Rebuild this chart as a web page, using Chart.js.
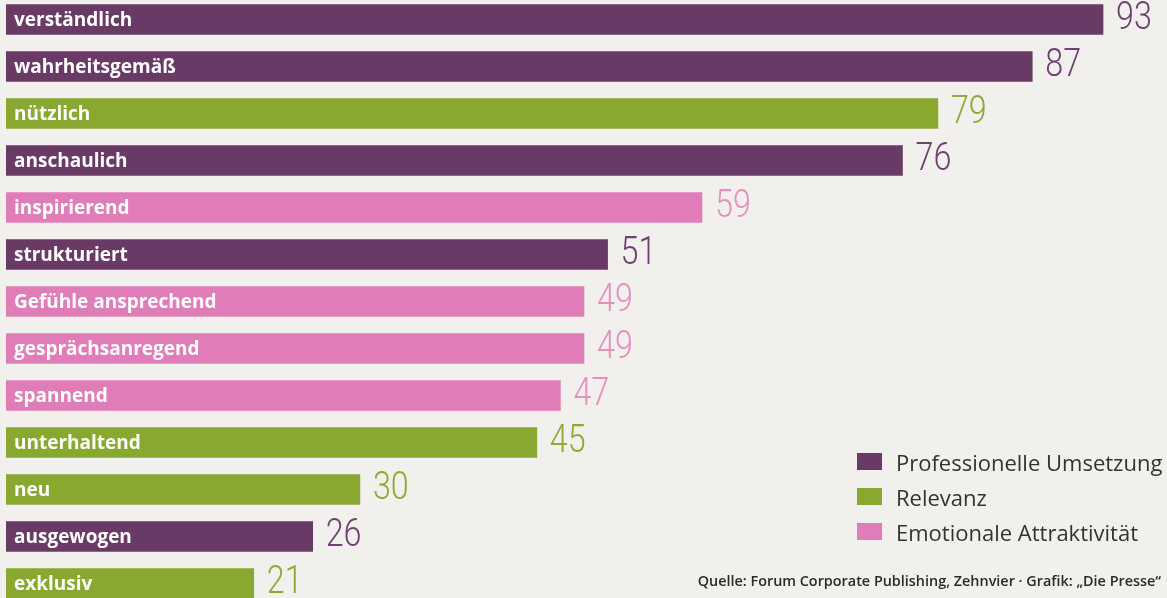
<!DOCTYPE html>
<html>
<head>
<meta charset="utf-8">
<script src="https://cdn.jsdelivr.net/npm/chart.js@4"></script>
<style>
  html, body { margin: 0; padding: 0; overflow: hidden; background: #f2f0ec; }
  body { width: 1167px; height: 598px; position: relative; font-family: "Open Sans", sans-serif; }
  #wrap { position: absolute; left: 0; top: -4px; width: 1167px; height: 611px; }
  #legend { position: absolute; left: 857px; top: 444px; }
  .item { display: flex; align-items: center; height: 35px; font-size: 22px; color: #333; }
  .box { width: 25px; height: 17px; margin-right: 14px; }
  #source { position: absolute; right: 6px; top: 571px; font-size: 14.4px; font-weight: 600; color: #2a2a2a; }
</style>
</head>
<body>
<div id="wrap"><canvas id="chart"></canvas></div>
<div id="legend"></div>
<div id="source">Quelle: Forum Corporate Publishing, Zehnvier · Grafik: „Die Presse“</div>
<script>
// Daten aus der Grafik
const categories = ['verständlich', 'wahrheitsgemäß', 'nützlich', 'anschaulich', 'inspirierend', 'strukturiert',
  'Gefühle ansprechend', 'gesprächsanregend', 'spannend', 'unterhaltend', 'neu', 'ausgewogen', 'exklusiv'];
const values = [93, 87, 79, 76, 59, 51, 49, 49, 47, 45, 30, 26, 21];
// 0 = Professionelle Umsetzung, 1 = Relevanz, 2 = Emotionale Attraktivität
const groups = [0, 0, 1, 0, 2, 0, 2, 2, 2, 1, 1, 0, 1];
const seriesNames = ['Professionelle Umsetzung', 'Relevanz', 'Emotionale Attraktivität'];
const barColors = ['#6a3a67', '#89a830', '#e07cb7'];
const textColors = ['#6e4170', '#8cab35', '#e48fc2'];

const datasets = seriesNames.map((name, s) => ({
  label: name,
  data: values.map((v, i) => groups[i] === s ? v : null),
  backgroundColor: barColors[s],
  barThickness: 30,
  grouped: false
}));

// Beschriftungen in und neben den Balken
const barLabels = {
  id: 'barLabels',
  afterDatasetsDraw(chart) {
    const ctx = chart.ctx;
    const left = chart.chartArea.left;
    chart.data.datasets.forEach((ds, s) => {
      chart.getDatasetMeta(s).data.forEach((el, i) => {
        if (ds.data[i] === null) return;
        ctx.save();
        ctx.textBaseline = 'middle';
        ctx.fillStyle = '#ffffff';
        ctx.font = 'bold 19px "Open Sans"';
        ctx.fillText(categories[i], left + 8, el.y + 1);
        // Zahl etwas schmaler gesetzt wie im Original
        ctx.fillStyle = textColors[s];
        ctx.font = '300 38px Roboto';
        ctx.translate(el.x + 13, el.y);
        ctx.scale(0.85, 1);
        ctx.fillText(String(ds.data[i]), 0, 0);
        ctx.restore();
      });
    });
  }
};

new Chart(document.getElementById('chart'), {
  type: 'bar',
  data: { labels: categories, datasets: datasets },
  options: {
    indexAxis: 'y',
    responsive: true,
    maintainAspectRatio: false,
    animation: false,
    layout: { padding: { left: 6, right: 5, top: 0, bottom: 0 } },
    scales: {
      x: { display: false, min: 0, max: 98 },
      y: { display: false }
    },
    plugins: { legend: { display: false }, tooltip: { enabled: false } }
  },
  plugins: [barLabels]
});

const legend = document.getElementById('legend');
seriesNames.forEach((name, s) => {
  const row = document.createElement('div');
  row.className = 'item';
  row.innerHTML = '<span class="box" style="background:' + barColors[s] + '"></span>' + name;
  legend.appendChild(row);
});
</script>
</body>
</html>
